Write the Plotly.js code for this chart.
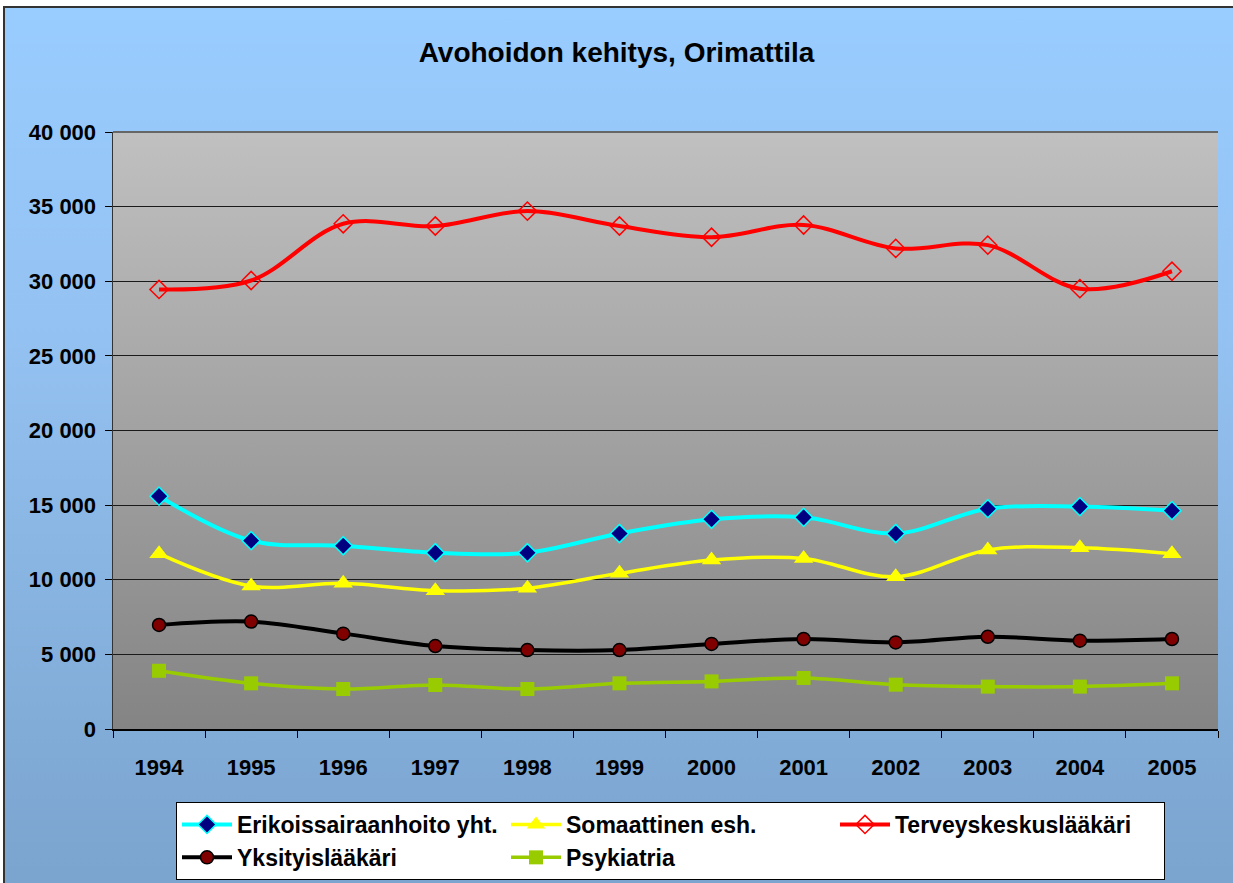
<!DOCTYPE html>
<html>
<head>
<meta charset="utf-8">
<script src="https://cdn.plot.ly/plotly-3.0.1.min.js"></script>
<style>
  html, body { margin: 0; padding: 0; background: #ffffff; width: 1233px; height: 883px; overflow: hidden; }
  #frame { position: absolute; left: 3px; top: 6px; width: 1240px; height: 890px;
           border: 2px solid #333333;
           background: linear-gradient(to bottom, #99CCFF 0%, #94C2F2 35%, #7AA3CD 100%); }
  #chart { position: absolute; left: 0; top: 0; width: 1233px; height: 883px; }
</style>
</head>
<body>
<div id="frame"></div>
<div id="chart"></div>
<script>
const years = ['1994','1995','1996','1997','1998','1999','2000','2001','2002','2003','2004','2005'];
const erikoissairaanhoito = [15600, 12620, 12280, 11810, 11810, 13100, 14050, 14180, 13100, 14760, 14900, 14630];
const somaattinen = [11750, 9580, 9760, 9270, 9430, 10430, 11320, 11430, 10200, 12000, 12150, 11750];
const terveyskeskus = [29450, 30050, 33850, 33700, 34700, 33700, 32950, 33770, 32200, 32420, 29500, 30670];
const yksityis = [6970, 7200, 6390, 5560, 5290, 5290, 5700, 6030, 5800, 6180, 5920, 6030];
const psykiatria = [3900, 3060, 2680, 2950, 2680, 3060, 3190, 3420, 2970, 2840, 2840, 3060];
const seriesNames = ['Erikoissairaanhoito yht.', 'Somaattinen esh.', 'Terveyskeskuslääkäri', 'Yksityislääkäri', 'Psykiatria'];
const yTickVals = [0, 5000, 10000, 15000, 20000, 25000, 30000, 35000, 40000];

const FONT = 'Liberation Sans, Arial, Helvetica, sans-serif';
const line = (w, c) => ({ shape: 'spline', smoothing: 1, width: w, color: c });

const traces = [
  { x: years, y: erikoissairaanhoito, name: seriesNames[0], type: 'scatter', mode: 'lines+markers',
    line: line(4, '#00FFFF'),
    marker: { symbol: 'diamond', size: 14, color: '#000080', line: { color: '#00FFFF', width: 1.5 } } },
  { x: years, y: somaattinen, name: seriesNames[1], type: 'scatter', mode: 'lines+markers',
    line: line(3.5, '#FFFF00'),
    marker: { symbol: 'triangle-up', size: 17, color: '#FFFF00', line: { width: 0 } } },
  { x: years, y: terveyskeskus, name: seriesNames[2], type: 'scatter', mode: 'lines+markers',
    line: line(4, '#FF0000'),
    marker: { symbol: 'diamond-open', size: 14, color: '#FF0000', line: { color: '#FF0000', width: 1.5 } } },
  { x: years, y: yksityis, name: seriesNames[3], type: 'scatter', mode: 'lines+markers',
    line: line(4, '#000000'),
    marker: { symbol: 'circle', size: 13, color: '#800000', line: { color: '#000000', width: 1.5 } } },
  { x: years, y: psykiatria, name: seriesNames[4], type: 'scatter', mode: 'lines+markers',
    line: line(3.5, '#99CC00'),
    marker: { symbol: 'square', size: 14, color: '#99CC00', line: { width: 0 } } }
];

const gradSvg = '<svg xmlns="http://www.w3.org/2000/svg" width="100" height="100" preserveAspectRatio="none">' +
  '<defs><linearGradient id="g" x1="0" y1="0" x2="0" y2="1">' +
  '<stop offset="0" stop-color="#C0C0C0"/><stop offset="1" stop-color="#848484"/></linearGradient></defs>' +
  '<rect x="0" y="0" width="100" height="100" fill="url(#g)"/></svg>';

const layout = {
  width: 1233, height: 883,
  paper_bgcolor: 'rgba(0,0,0,0)',
  plot_bgcolor: 'rgba(0,0,0,0)',
  margin: { l: 113, r: 15, t: 132, b: 154, pad: 0, autoexpand: false },
  separators: ', ',
  font: { family: FONT, size: 22, color: '#000000', weight: 'bold' },
  title: { text: 'Avohoidon kehitys, Orimattila', x: 0.5, xanchor: 'center', xref: 'container',
           y: 1 - 52 / 883, yanchor: 'middle', yref: 'container',
           font: { family: FONT, size: 28, color: '#000000', weight: 'bold' } },
  xaxis: { type: 'category', range: [-0.5, 11.5], showgrid: false, zeroline: false,
           showline: true, linecolor: '#000000', linewidth: 1.5,
           ticks: 'outside', tickson: 'boundaries', ticklen: 7, tickcolor: '#000000', tickwidth: 1,
           tickfont: { family: FONT, size: 22, color: '#000000', weight: 'bold' },
           ticklabelstandoff: 18, automargin: false,
           fixedrange: true },
  yaxis: { range: [0, 40000], tickvals: yTickVals, tickformat: ',d',
           showgrid: true, gridcolor: '#1a1a1a', gridwidth: 1, zeroline: false,
           showline: true, linecolor: '#333333', linewidth: 1.5,
           ticks: 'outside', ticklen: 7, tickcolor: '#000000', tickwidth: 1,
           tickfont: { family: FONT, size: 22, color: '#000000', weight: 'bold' },
           ticklabelstandoff: 4, automargin: false,
           fixedrange: true },
  shapes: [
    { type: 'line', xref: 'paper', yref: 'paper', x0: 0, x1: 1, y0: 1, y1: 1,
      line: { color: '#666666', width: 2 }, layer: 'above' }
  ],
  images: [
    { source: 'data:image/svg+xml;charset=utf-8,' + encodeURIComponent(gradSvg),
      xref: 'paper', yref: 'paper', x: 0, y: 1, sizex: 1, sizey: 1,
      sizing: 'stretch', xanchor: 'left', yanchor: 'top', layer: 'below' }
  ],
  showlegend: true,
  legend: { orientation: 'h', x: (176 - 113) / 1105, xanchor: 'left', y: (729 - 802) / 597, yanchor: 'top',
            bgcolor: '#FFFFFF', bordercolor: '#000000', borderwidth: 1,
            entrywidth: 264, entrywidthmode: 'pixels', itemwidth: 50, tracegroupgap: 0,
            font: { family: FONT, size: 23, color: '#000000', weight: 'bold' } },
  hovermode: false
};

Plotly.newPlot('chart', traces, layout, { displayModeBar: false, staticPlot: true });
</script>
</body>
</html>
